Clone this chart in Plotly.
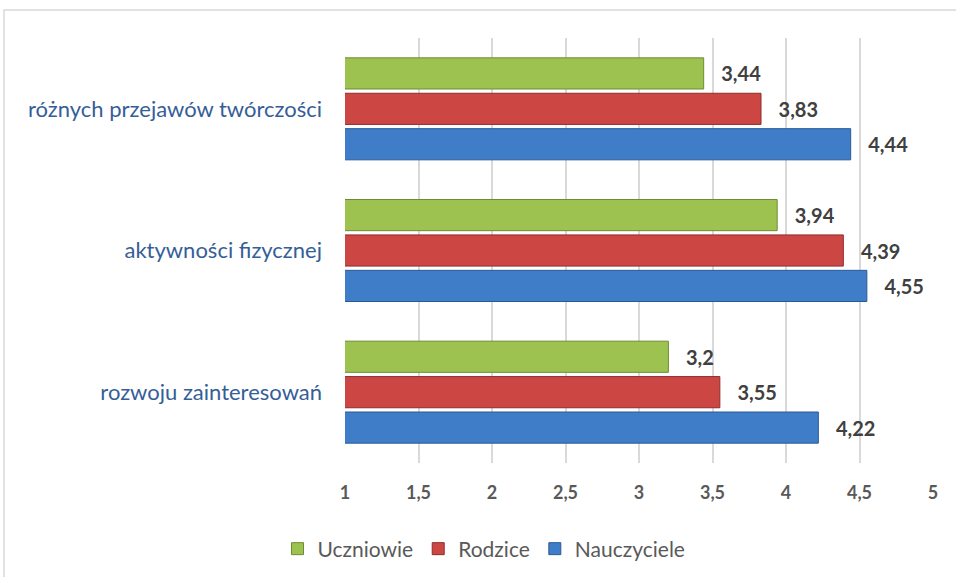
import plotly.graph_objects as go

categories = ["rozwoju zainteresowań", "aktywności fizycznej", "różnych przejawów twórczości"]
nauczyciele = [4.22, 4.55, 4.44]
rodzice = [3.55, 4.39, 3.83]
uczniowie = [3.2, 3.94, 3.44]
x_ticks = [1, 1.5, 2, 2.5, 3, 3.5, 4, 4.5, 5]

series = [
    ("Nauczyciele", nauczyciele, "#3F7DC8", "#2A5A96"),
    ("Rodzice", rodzice, "#CC4744", "#8E2D2B"),
    ("Uczniowie", uczniowie, "#9DC24F", "#6E8C32"),
]

FONT = "Lato"
W, H = 956, 577
fig = go.Figure()
for name, vals, col, edge in series:
    fig.add_trace(go.Bar(
        name=name, y=categories, x=vals, orientation="h",
        marker=dict(color=col, line=dict(color=edge, width=1)),
        texttemplate="\u00a0\u00a0\u00a0%{x}",
        textposition="outside", cliponaxis=False,
        textfont=dict(family=FONT, size=20, color="#404040", weight="bold"),
    ))

fig.update_layout(
    width=W, height=H,
    barmode="group", bargap=0.25, bargroupgap=0.12,
    separators=", ",
    plot_bgcolor="white", paper_bgcolor="white",
    margin=dict(l=345, r=23, t=38, b=114),
    font=dict(family=FONT),
    legend=dict(
        orientation="h", traceorder="reversed",
        xref="container", yref="container",
        x=484 / W, y=1 - 549 / H, xanchor="center", yanchor="middle",
        font=dict(family=FONT, size=21, color="#595959"),
    ),
    shapes=[dict(type="rect", xref="paper", yref="paper",
                 x0=(4 - 345) / 588, x1=2, y0=-2, y1=(463 - 10) / 425,
                 line=dict(color="#D9D9D9", width=1.5), layer="below")],
)
fig.update_xaxes(
    range=[1, 5], tickvals=x_ticks,
    ticktext=[str(v).replace(".", ",") for v in x_ticks],
    showgrid=True, gridcolor="#D9D9D9", gridwidth=1.5, zeroline=False,
    tickfont=dict(family=FONT, size=18, color="#595959", weight="bold"),
    ticklabelstandoff=17,
)
fig.update_yaxes(
    showgrid=False, zeroline=False,
    tickfont=dict(family=FONT, size=22, color="#355E98"),
    ticklabelstandoff=22,
)
fig.write_html(
    "out.html",
    config={"displayModeBar": False},
    post_script="document.body.style.margin='0';document.body.style.overflow='hidden';",
)
